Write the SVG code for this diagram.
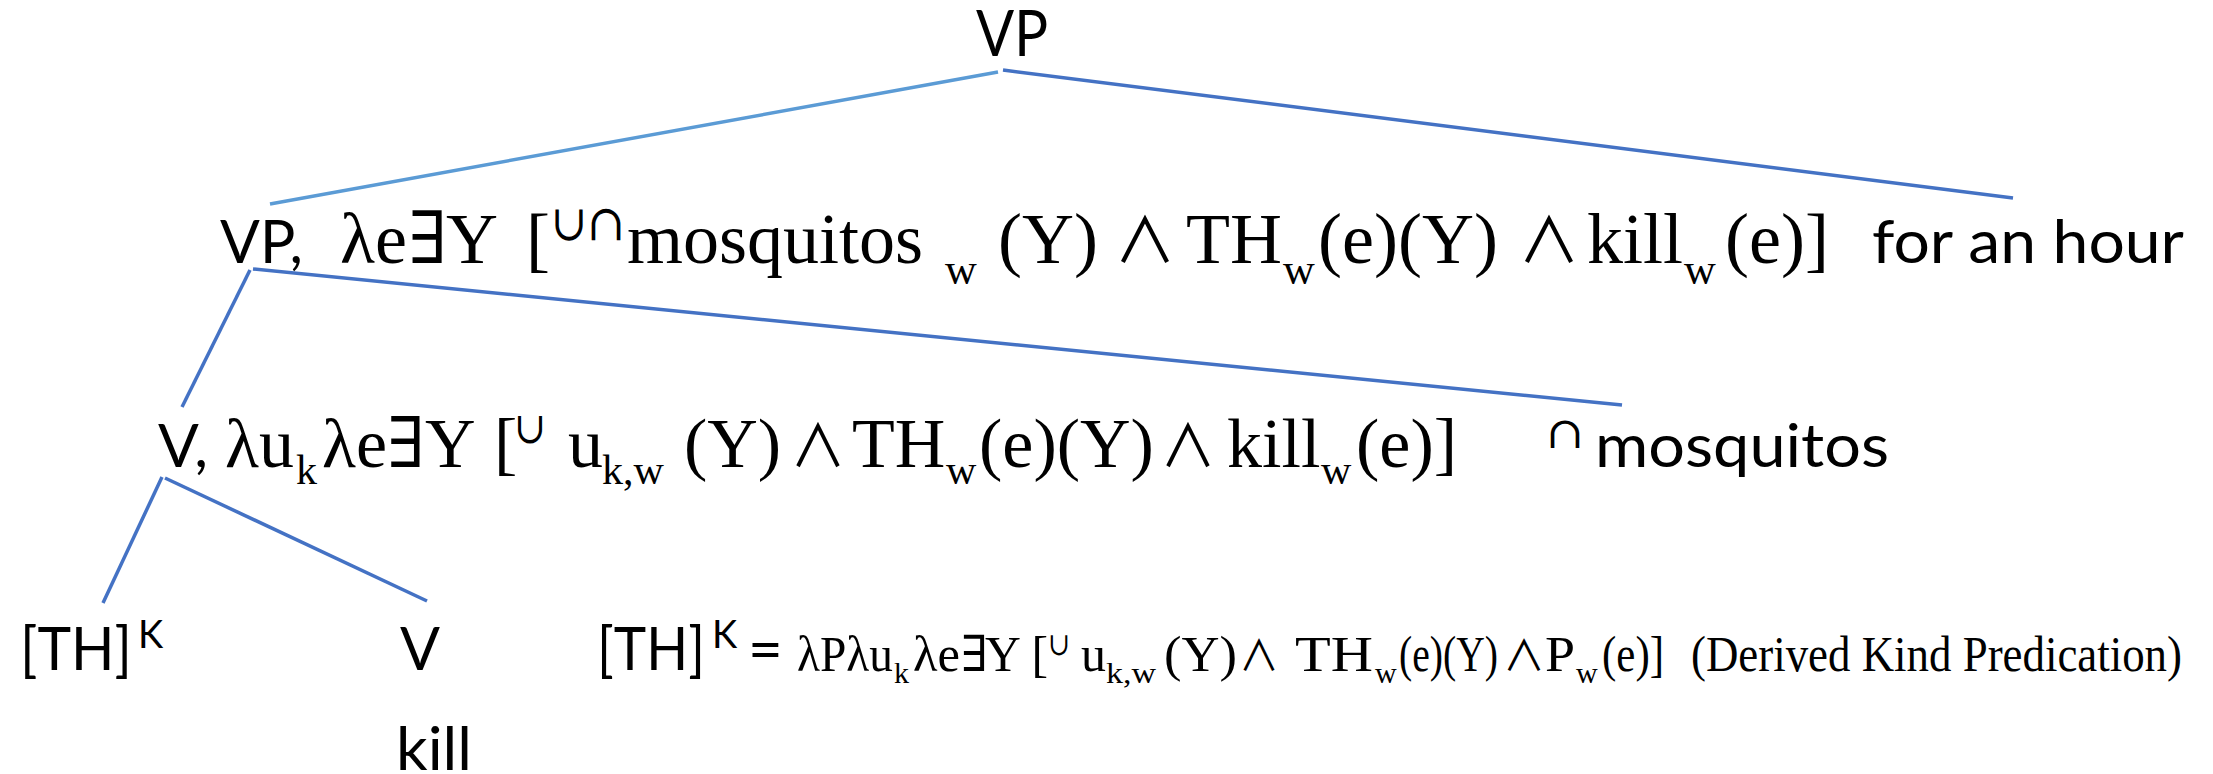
<svg xmlns="http://www.w3.org/2000/svg" width="2213" height="774" viewBox="0 0 2213 774">
<style>
.bg{fill:#ffffff}
.sans{font-family:Lato,"Liberation Sans",sans-serif;fill:#000}
.serif{font-family:"Liberation Serif","DejaVu Serif",serif;fill:#000}
.sym{font-family:"DejaVu Serif","Liberation Serif",serif;fill:#000}
.and{font-family:"Noto Sans CJK JP","DejaVu Serif",sans-serif;fill:#000}
.edge{stroke:#4472C4;stroke-width:3.5;fill:none}
.edge-light{stroke:#5B9BD5;stroke-width:3.5;fill:none}
.r2{font-size:72px}
.r2s{font-size:44px}
.r2sup{font-size:50px}
.r2and{font-size:62px}
.r3{font-size:70px}
.r3s{font-size:42px}
.r3sup{font-size:44px}
.r3and{font-size:58px}
.r4{font-size:50px}
.r4s{font-size:30px}
.r4sup{font-size:32px}
.r4and{font-size:42px}
</style>
<rect class="bg" x="0" y="0" width="2213" height="774"/>

<g id="connectors">
  <line class="edge-light" x1="998" y1="72" x2="270" y2="204"/>
  <line class="edge" x1="1003" y1="70" x2="2013" y2="198"/>
  <line class="edge" x1="250" y1="270" x2="182" y2="407"/>
  <line class="edge" x1="253" y1="269" x2="1622" y2="405"/>
  <line class="edge" x1="162" y1="477" x2="103" y2="603"/>
  <line class="edge" x1="165" y1="478" x2="427" y2="601"/>
</g>

<g id="node-vp-root">
  <text class="sans" x="976" y="56" font-size="64" textLength="72" lengthAdjust="spacingAndGlyphs">VP</text>
</g>

<g id="node-vp-inner">
  <text class="sans" x="220" y="263" font-size="60" textLength="83" lengthAdjust="spacingAndGlyphs">VP,</text>
  <text class="serif r2" x="340" y="263">λe</text>
  <text class="sym r2" x="408" y="263">∃</text>
  <text class="serif r2" x="446" y="263">Y</text>
  <text class="serif r2" x="526" y="263">[</text>
  <text class="sym r2sup" x="551" y="240" textLength="36" lengthAdjust="spacingAndGlyphs">∪</text>
  <text class="sym r2sup" x="587" y="240" textLength="38" lengthAdjust="spacingAndGlyphs">∩</text>
  <text class="serif r2" x="627" y="263">mosquitos</text>
  <text class="serif r2s" x="945" y="284">w</text>
  <text class="serif r2" x="998" y="263">(Y)</text>
  <text class="and r2and" x="1114" y="263" textLength="62" lengthAdjust="spacingAndGlyphs">∧</text>
  <text class="serif r2" x="1186" y="263">TH</text>
  <text class="serif r2s" x="1283" y="284">w</text>
  <text class="serif r2" x="1318" y="263">(e)(Y)</text>
  <text class="and r2and" x="1518" y="263" textLength="62" lengthAdjust="spacingAndGlyphs">∧</text>
  <text class="serif r2" x="1587" y="263">kill</text>
  <text class="serif r2s" x="1684" y="284">w</text>
  <text class="serif r2" x="1725" y="263">(e)]</text>
</g>

<g id="node-for-an-hour">
  <text class="sans" x="1872" y="263" font-size="60" textLength="312" lengthAdjust="spacingAndGlyphs">for an hour</text>
</g>

<g id="node-v">
  <text class="sans" x="158" y="467" font-size="60" textLength="50" lengthAdjust="spacingAndGlyphs">V,</text>
  <text class="serif r3" x="225" y="467">λu</text>
  <text class="serif r3s" x="296" y="484">k</text>
  <text class="serif r3" x="322" y="467">λe<tspan class="sym">∃</tspan>Y</text>
  <text class="serif r3" x="494" y="467">[</text>
  <text class="sym r3sup" x="514" y="443" textLength="32" lengthAdjust="spacingAndGlyphs">∪</text>
  <text class="serif r3" x="568" y="467">u</text>
  <text class="serif r3s" x="602" y="484">k,w</text>
  <text class="serif r3" x="684" y="467">(Y)</text>
  <text class="and r3and" x="790" y="467" textLength="56" lengthAdjust="spacingAndGlyphs">∧</text>
  <text class="serif r3" x="852" y="467">TH</text>
  <text class="serif r3s" x="946" y="484">w</text>
  <text class="serif r3" x="979" y="467">(e)(Y)</text>
  <text class="and r3and" x="1160" y="467" textLength="56" lengthAdjust="spacingAndGlyphs">∧</text>
  <text class="serif r3" x="1227" y="467">kill</text>
  <text class="serif r3s" x="1321" y="484">w</text>
  <text class="serif r3" x="1356" y="467">(e)]</text>
</g>

<g id="node-mosquitos">
  <text class="sym r3sup" x="1546" y="448" textLength="38" lengthAdjust="spacingAndGlyphs">∩</text>
  <text class="sans" x="1595" y="467" font-size="60" textLength="294" lengthAdjust="spacingAndGlyphs">mosquitos</text>
</g>

<g id="node-th-k">
  <text class="sans" x="20" y="670" font-size="60" textLength="112" lengthAdjust="spacingAndGlyphs">[TH]</text>
  <text class="sans" x="138" y="648" font-size="38">K</text>
</g>

<g id="node-v-kill">
  <text class="sans" x="400" y="670" font-size="60" textLength="40" lengthAdjust="spacingAndGlyphs">V</text>
  <text class="sans" x="396" y="770" font-size="60" textLength="76" lengthAdjust="spacingAndGlyphs">kill</text>
</g>

<g id="node-definition">
  <text class="sans" x="597" y="670" font-size="60" textLength="108" lengthAdjust="spacingAndGlyphs">[TH]</text>
  <text class="sans" x="712" y="648" font-size="38">K</text>
  <text class="sans" x="748" y="670" font-size="60">=</text>
  <text class="serif r4" x="797" y="671" textLength="96" lengthAdjust="spacingAndGlyphs">λPλu</text>
  <text class="serif r4s" x="894" y="683">k</text>
  <text class="serif r4" x="913" y="671" textLength="47" lengthAdjust="spacingAndGlyphs">λe</text>
  <text class="sym r4" x="961" y="671" font-size="44">∃</text>
  <text class="serif r4" x="985" y="671" textLength="63" lengthAdjust="spacingAndGlyphs">Y [</text>
  <text class="sym r4sup" x="1048" y="655" textLength="22" lengthAdjust="spacingAndGlyphs">∪</text>
  <text class="serif r4" x="1081" y="671">u</text>
  <text class="serif r4s" x="1106" y="683" textLength="50" lengthAdjust="spacingAndGlyphs">k,w</text>
  <text class="serif r4" x="1164" y="671" textLength="73" lengthAdjust="spacingAndGlyphs">(Y)</text>
  <text class="and r4and" x="1239" y="671" textLength="40" lengthAdjust="spacingAndGlyphs">∧</text>
  <text class="serif r4" x="1295" y="671" textLength="78" lengthAdjust="spacingAndGlyphs">TH</text>
  <text class="serif r4s" x="1375" y="683">w</text>
  <text class="serif r4" x="1399" y="671" textLength="99" lengthAdjust="spacingAndGlyphs">(e)(Y)</text>
  <text class="and r4and" x="1503" y="671" textLength="42" lengthAdjust="spacingAndGlyphs">∧</text>
  <text class="serif r4" x="1545" y="671" textLength="30" lengthAdjust="spacingAndGlyphs">P</text>
  <text class="serif r4s" x="1576" y="683">w</text>
  <text class="serif r4" x="1602" y="671" textLength="62" lengthAdjust="spacingAndGlyphs">(e)]</text>
  <text class="serif r4" x="1691" y="671" textLength="491" lengthAdjust="spacingAndGlyphs">(Derived Kind Predication)</text>
</g>
</svg>
